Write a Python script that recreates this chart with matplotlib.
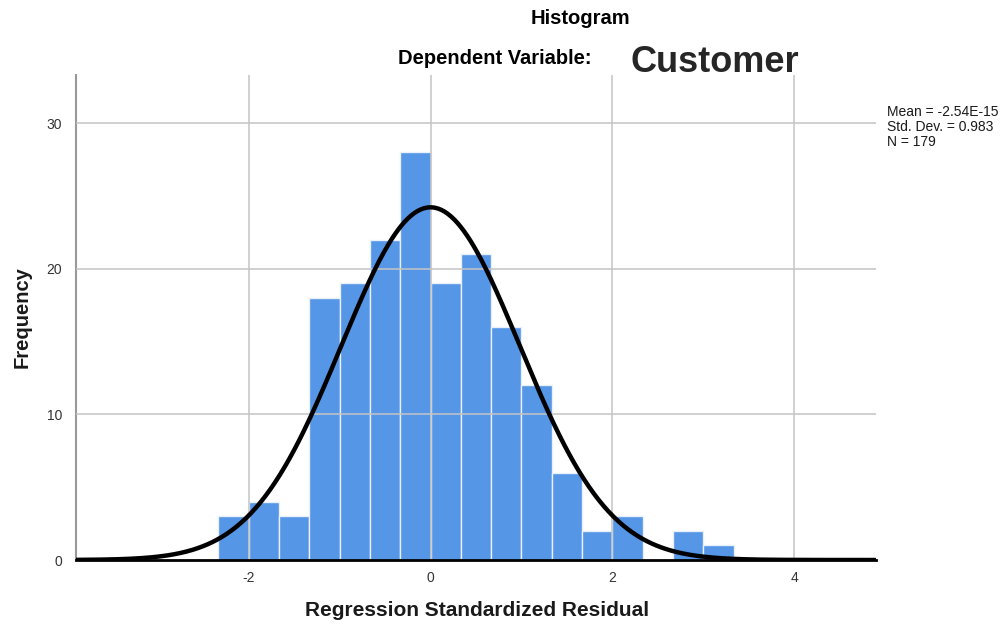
import numpy as np
import matplotlib
matplotlib.use("Agg")
import matplotlib.pyplot as plt

plt.rcParams['font.family'] = ['Liberation Sans', 'DejaVu Sans']

# Data
bin_edges = [-7/3, -2, -5/3, -4/3, -1, -2/3, -1/3, 0, 1/3, 2/3, 1, 4/3, 5/3, 2, 7/3, 8/3, 3, 10/3]
counts = [3, 4, 3, 18, 19, 22, 28, 19, 21, 16, 12, 6, 2, 3, 0, 2, 1]
mean_val = -2.54e-15
std_val = 0.983
n_val = 179
x_ticks = [-2, 0, 2, 4]
y_ticks = [0, 10, 20, 30]

fig = plt.figure(figsize=(10.05, 6.25), dpi=100)
ax = fig.add_axes([76/1005, 65/625, 800/1005, 485/625])

edges = np.array(bin_edges)
widths = np.diff(edges)
ax.bar(edges[:-1], counts, width=widths, align='edge', color='#5596E6',
       edgecolor='#E8F0FB', linewidth=1.0, zorder=2)

# grid lines (drawn over bars, light)
for xt in x_ticks:
    ax.axvline(xt, color='#C4C4C4', lw=1.1, zorder=3)
for yt in y_ticks[1:]:
    ax.axhline(yt, color='#C4C4C4', lw=1.1, zorder=3)

# normal curve
bw = widths[0]
xs = np.linspace(-3.9, 4.9, 500)
ys = n_val * bw * np.exp(-0.5 * ((xs - mean_val) / std_val) ** 2) / (std_val * np.sqrt(2 * np.pi))
ax.plot(xs, ys, color='black', lw=3.2, zorder=4, solid_capstyle='round')

ax.set_xlim(-3.9, 4.9)
ax.set_ylim(0, 33.3)
ax.set_xticks(x_ticks)
ax.set_xticklabels([str(t) for t in x_ticks])
ax.set_yticks(y_ticks)
ax.tick_params(axis='both', length=0, labelsize=10, colors='#333333', pad=8)
ax.tick_params(axis='y', pad=10)

for s in ['top', 'right']:
    ax.spines[s].set_visible(False)
ax.spines['left'].set_color('#999999')
ax.spines['left'].set_linewidth(1.5)
ax.spines['bottom'].set_color('black')
ax.spines['bottom'].set_linewidth(2)
ax.spines['bottom'].set_zorder(5)

fig.text(477/1005, 1 - 611/625, 'Regression Standardized Residual', ha='center', va='center',
         fontsize=15, fontweight='bold', color='#1a1a1a')
fig.text(22/1005, 1 - 317/625, 'Frequency', ha='center', va='center', rotation=90,
         fontsize=14.5, fontweight='bold', color='#1a1a1a')

fig.text(580/1005, 1 - 18/625, 'Histogram', ha='center', va='center', fontsize=14.5, fontweight='bold')
fig.text(495/1005, 1 - 59/625, 'Dependent Variable:', ha='center', va='center', fontsize=14.5, fontweight='bold')
fig.text(715/1005, 1 - 62/625, 'Customer', ha='center', va='center', fontsize=26, fontweight='bold', color='#262626')

fig.text(887/1005, 1 - 105/625, 'Mean = -2.54E-15\nStd. Dev. = 0.983\nN = 179',
         ha='left', va='top', fontsize=10, linespacing=1.1, color='#1a1a1a')

fig.savefig('out.png', dpi=100, facecolor='white')
